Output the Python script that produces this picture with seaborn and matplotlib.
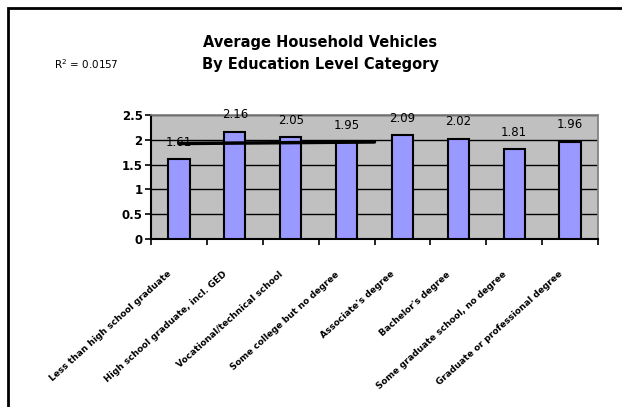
import numpy as np
import pandas as pd
import matplotlib
matplotlib.use("Agg")
import matplotlib.pyplot as plt
import matplotlib.transforms as mtransforms
import seaborn as sns

categories = [
    "Less than high school graduate",
    "High school graduate, incl. GED",
    "Vocational/technical school",
    "Some college but no degree",
    "Associate's degree",
    "Bachelor's degree",
    "Some graduate school, no degree",
    "Graduate or professional degree",
]
vehicles = [1.61, 2.16, 2.05, 1.95, 2.09, 2.02, 1.81, 1.96]
r2_text = "R$^2$ = 0.0157"

df = pd.DataFrame({"education": categories, "vehicles": vehicles})

sns.set_theme(style="white")
plt.rcParams["font.family"] = ["DejaVu Sans"]
plt.rcParams["text.color"] = "black"
plt.rcParams["xtick.color"] = "black"
plt.rcParams["ytick.color"] = "black"

fig = plt.figure(figsize=(6.22, 4.07), dpi=100)
ax = fig.add_axes([151 / 622, 1 - 239 / 407, (598 - 151) / 622, (239 - 115) / 407])

ax.set_facecolor("#C0C0C0")
sns.barplot(data=df, x="education", y="vehicles", color="#9999FF", saturation=1,
            width=0.38, edgecolor="black", linewidth=1.5, ax=ax, zorder=3)
ax.set_ylim(0, 2.5)
ax.set_xlim(-0.5, len(categories) - 0.5)
ax.set_yticks([0, 0.5, 1, 1.5, 2, 2.5])
ax.set_yticklabels(["0", "0.5", "1", "1.5", "2", "2.5"], fontsize=8.5, fontweight="bold")
ax.yaxis.grid(True, color="black", linewidth=1.0)
ax.set_axisbelow(True)
for side in ["top", "right"]:
    ax.spines[side].set_color("#808080")
for side in ["left", "bottom"]:
    ax.spines[side].set_color("black")
    ax.spines[side].set_linewidth(1.5)
ax.tick_params(axis="y", length=4, width=1.2, color="black", left=True, pad=2)
ax.set_xticks(np.arange(len(categories) + 1) - 0.5, minor=True)
ax.tick_params(axis="x", which="minor", length=4, width=1.2, color="black", bottom=True)
ax.tick_params(axis="x", which="major", length=0, pad=22)
ax.set_xticklabels(categories, rotation=42, ha="right", rotation_mode="anchor",
                   fontsize=6.5, fontweight="bold")
shift = mtransforms.ScaledTranslation(-12 / 100, 0, fig.dpi_scale_trans)
for lab in ax.get_xticklabels():
    lab.set_transform(lab.get_transform() + shift)
ax.set_xlabel("")
ax.set_ylabel("")

# value labels above bars
for i, v in enumerate(vehicles):
    ax.text(i, v + 0.34, f"{v:.2f}", ha="center", va="center", fontsize=8.5, zorder=5)

# linear trendline
xs = np.arange(len(vehicles))
slope, intercept = np.polyfit(xs, vehicles, 1)
tx = np.array([0, 3.5])
ax.plot(tx, slope * tx + intercept, color="black", linewidth=2.5, zorder=4)

fig.text(320 / 622, 1 - 42 / 407, "Average Household Vehicles", ha="center", va="center",
         fontsize=10.5, fontweight="bold")
fig.text(320 / 622, 1 - 64 / 407, "By Education Level Category", ha="center", va="center",
         fontsize=10.5, fontweight="bold")
fig.text(54 / 622, 1 - 64 / 407, r2_text, ha="left", va="center", fontsize=7.5)

fig.patches.append(plt.Rectangle((8 / 622, -0.05), 1.0, 1 - 8 / 407 + 0.05,
                                 transform=fig.transFigure, fill=False,
                                 edgecolor="black", linewidth=2))

fig.savefig("out.png", dpi=100)
